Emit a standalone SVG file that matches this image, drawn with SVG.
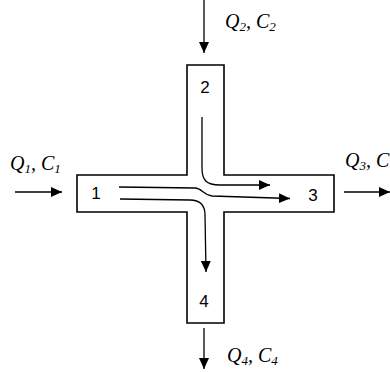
<svg xmlns="http://www.w3.org/2000/svg" width="390" height="372" viewBox="0 0 390 372">
<style>
.shape{fill:#fff;stroke:#000;stroke-width:1.6}
.flow{fill:none;stroke:#000;stroke-width:1.3}
.num{font-family:"Liberation Sans",Arial,sans-serif;font-size:17px;text-anchor:middle;fill:#000}
.lbl{font-family:"Liberation Serif","Times New Roman",serif;font-style:italic;font-size:20px;fill:#000}
.sub{font-size:13px}
</style>
<defs>
<marker id="ah" markerUnits="userSpaceOnUse" markerWidth="12" markerHeight="11" refX="11" refY="5" orient="auto">
<path d="M0,0 L11,5 L0,10 Z" fill="#000"/>
</marker>
</defs>
<rect width="390" height="372" fill="#fff"/>
<g id="junction">
<path class="shape" d="M187,65 H224 V175 H334 V212 H224 V323 H187 V212 H77 V175 H187 Z"/>
</g>
<g id="node1"><text class="num" x="96" y="199">1</text></g>
<g id="node2"><text class="num" x="205" y="93">2</text></g>
<g id="node3"><text class="num" x="313" y="201">3</text></g>
<g id="node4"><text class="num" x="204" y="307">4</text></g>
<g id="connectors">
<line class="flow" x1="15" y1="192" x2="62" y2="192" marker-end="url(#ah)"/>
<line class="flow" x1="204" y1="0" x2="204" y2="53" marker-end="url(#ah)"/>
<line class="flow" x1="344" y1="192" x2="390" y2="192" marker-end="url(#ah)"/>
<line class="flow" x1="204" y1="328" x2="204" y2="369" marker-end="url(#ah)"/>
<path class="flow" d="M202,117 L202,168 C202,180 206,185 220,185 L270,185" marker-end="url(#ah)"/>
<path class="flow" d="M119,187 L195,188 C202,188 203,195 212,196 L290,198.5" marker-end="url(#ah)"/>
<path class="flow" d="M120,199 L190,200 C200,200 205,205 205,215 L206,272" marker-end="url(#ah)"/>
</g>
<g id="labels">
<text class="lbl" x="10" y="170">Q<tspan class="sub" dy="3">1</tspan><tspan dy="-3">, C</tspan><tspan class="sub" dy="3">1</tspan></text>
<text class="lbl" x="225" y="28">Q<tspan class="sub" dy="3">2</tspan><tspan dy="-3">, C</tspan><tspan class="sub" dy="3">2</tspan></text>
<text class="lbl" x="345" y="167">Q<tspan class="sub" dy="3">3</tspan><tspan dy="-3">, C</tspan></text>
<text class="lbl" x="227" y="362">Q<tspan class="sub" dy="3">4</tspan><tspan dy="-3">, C</tspan><tspan class="sub" dy="3">4</tspan></text>
</g>
</svg>
